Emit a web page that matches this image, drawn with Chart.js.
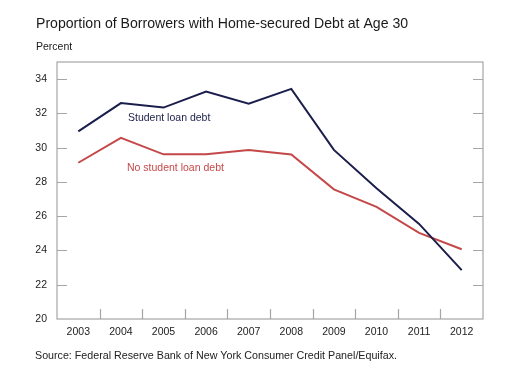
<!DOCTYPE html>
<html>
<head>
<meta charset="utf-8">
<script src="https://cdn.jsdelivr.net/npm/chart.js@4.4.1/dist/chart.umd.min.js"></script>
<style>
  html, body { margin: 0; padding: 0; background: #fff; }
  #wrap { width: 511px; height: 380px; position: relative; }
</style>
</head>
<body>
<div id="wrap"><canvas id="c" width="511" height="380"></canvas></div>
<script>
const years = ['2003','2004','2005','2006','2007','2008','2009','2010','2011','2012'];
const studentLoan = [30.95, 32.6, 32.34, 33.27, 32.56, 33.43, 29.87, 27.63, 25.55, 22.85];
const noStudentLoan = [29.12, 30.57, 29.61, 29.62, 29.86, 29.6, 27.57, 26.55, 25.03, 24.07];
const yTicks = [20, 22, 24, 26, 28, 30, 32, 34];

const titleText = 'Proportion of Borrowers with Home-secured Debt at Age 30';
const unitText = 'Percent';
const sourceText = 'Source: Federal Reserve Bank of New York Consumer Credit Panel/Equifax.';
const labelStudent = 'Student loan debt';
const labelNoStudent = 'No student loan debt';

const NAVY = '#1b1e4b';
const RED = '#c4484a';
const FRAME = '#a6a6a6';
const FONT = 'Arial, "Liberation Sans", Helvetica, sans-serif';

const decor = {
  id: 'decor',
  afterDraw(chart) {
    const ctx = chart.ctx;
    const a = chart.chartArea;
    const xs = chart.scales.x, ys = chart.scales.y;
    ctx.save();
    ctx.strokeStyle = FRAME;
    ctx.lineWidth = 1.2;
    ctx.strokeRect(a.left, a.top, a.right - a.left, a.bottom - a.top);
    ctx.beginPath();
    yTicks.forEach(v => {
      if (v <= ys.min) return;
      const y = Math.round(ys.getPixelForValue(v)) + 0.5;
      ctx.moveTo(a.left, y); ctx.lineTo(a.left + 10, y);
      ctx.moveTo(a.right, y); ctx.lineTo(a.right - 10, y);
    });
    for (let i = 1; i < years.length; i++) {
      const x = Math.round((xs.getPixelForValue(i - 1) + xs.getPixelForValue(i)) / 2) + 0.5;
      ctx.moveTo(x, a.bottom); ctx.lineTo(x, a.bottom - 10);
    }
    ctx.stroke();
    ctx.textBaseline = 'middle';
    ctx.textAlign = 'left';
    ctx.fillStyle = '#1a1a1a';
    ctx.font = '14.1px ' + FONT;
    ctx.fillText(titleText, 36, 24);
    ctx.font = '10.5px ' + FONT;
    ctx.fillText(unitText, 36, 47);
    ctx.fillStyle = '#222';
    ctx.font = '10.7px ' + FONT;
    ctx.fillText(sourceText, 35, 356);
    ctx.font = '10.5px ' + FONT;
    ctx.fillStyle = NAVY;
    ctx.fillText(labelStudent, 128, 118);
    ctx.fillStyle = RED;
    ctx.fillText(labelNoStudent, 127, 168);
    ctx.restore();
  }
};

new Chart(document.getElementById('c'), {
  type: 'line',
  data: {
    labels: years,
    datasets: [
      { label: labelStudent, data: studentLoan, borderColor: NAVY, borderWidth: 2, pointRadius: 0, tension: 0, fill: false },
      { label: labelNoStudent, data: noStudentLoan, borderColor: RED, borderWidth: 2, pointRadius: 0, tension: 0, fill: false }
    ]
  },
  options: {
    responsive: false,
    animation: false,
    devicePixelRatio: 1,
    layout: { padding: { top: 62, right: 28, bottom: 0, left: 0 } },
    plugins: { legend: { display: false }, title: { display: false }, tooltip: { enabled: false } },
    scales: {
      x: {
        type: 'category',
        offset: true,
        grid: { display: false, drawTicks: false },
        border: { display: false },
        ticks: { color: '#222', font: { family: FONT, size: 10.5 }, padding: 7, maxRotation: 0, autoSkip: false },
        afterFit(s) { s.height = 61; }
      },
      y: {
        min: 20, max: 35,
        grid: { display: false, drawTicks: false },
        border: { display: false },
        afterBuildTicks(s) { s.ticks = yTicks.map(v => ({ value: v })); },
        ticks: { color: '#222', font: { family: FONT, size: 10.5 }, padding: 10 },
        afterFit(s) { s.width = 57; }
      }
    }
  },
  plugins: [decor]
});
</script>
</body>
</html>
